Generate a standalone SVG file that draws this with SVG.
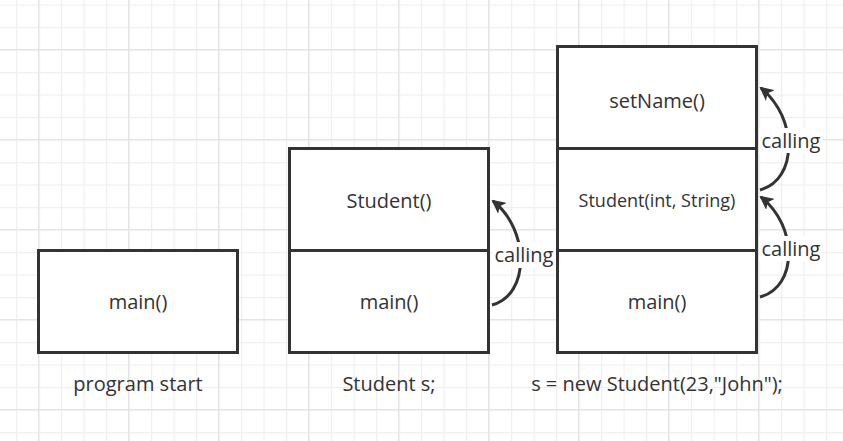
<svg xmlns="http://www.w3.org/2000/svg" width="843" height="441" viewBox="0 0 843 441">
<defs>
<pattern id="minor" width="22.5" height="22.5" patternUnits="userSpaceOnUse" x="-6.5" y="4.5">
<path d="M0,0.5 H22.5 M0.5,0 V22.5" stroke="#f0f0f0" stroke-width="1.5" fill="none"/>
</pattern>
<pattern id="major" width="90" height="90" patternUnits="userSpaceOnUse" x="38" y="49">
<path d="M0,0.5 H90 M0.5,0 V90" stroke="#e4e4e4" stroke-width="1.5" fill="none"/>
</pattern>
<marker id="arr" viewBox="0 0 14 14" refX="12" refY="7" markerWidth="14" markerHeight="14" markerUnits="userSpaceOnUse" orient="auto">
<path d="M0,0 L14,7 L0,14 L3.5,7 Z" fill="#333"/>
</marker>
</defs>
<style>
.box{fill:#fff;stroke:#333;stroke-width:3}
.sep{stroke:#333;stroke-width:3}
text{font-family:"Open Sans","Noto Sans",sans-serif;fill:#333;font-size:20px;text-anchor:middle;dominant-baseline:central}
.sm{font-size:18px}
.conn{fill:none;stroke:#333;stroke-width:3}
.lbl{fill:#fff}
</style>
<rect width="843" height="441" fill="#fff"/>
<rect width="843" height="441" fill="url(#minor)"/>
<rect width="843" height="441" fill="url(#major)"/>
<g id="stack1">
<rect class="box" x="38.5" y="250.5" width="199" height="102"/>
<text x="138" y="301">main()</text>
<text x="138" y="383">program start</text>
</g>
<g id="stack2">
<rect class="box" x="289.5" y="148.5" width="199" height="204"/>
<line class="sep" x1="289.5" y1="250.5" x2="488.5" y2="250.5"/>
<text x="389" y="200">Student()</text>
<text x="389" y="301">main()</text>
<text x="389" y="383">Student s;</text>
</g>
<g id="stack3">
<rect class="box" x="557.5" y="46.5" width="199" height="306"/>
<line class="sep" x1="557.5" y1="148.5" x2="756.5" y2="148.5"/>
<line class="sep" x1="557.5" y1="250.5" x2="756.5" y2="250.5"/>
<text x="657" y="100">setName()</text>
<text class="sm" x="657" y="200">Student(int, String)</text>
<text x="657" y="301">main()</text>
<text x="657" y="383">s = new Student(23,"John");</text>
</g>
<g id="connectors">
<path class="conn" marker-end="url(#arr)" d="M492,305 C530,295 530,230 493,201"/>
<rect class="lbl" x="493" y="242" width="63" height="26"/>
<text x="524" y="254">calling</text>
<path class="conn" marker-end="url(#arr)" d="M760,297 C798,287 798,226 761,197"/>
<rect class="lbl" x="759" y="236" width="64" height="25"/>
<text x="791" y="248">calling</text>
<path class="conn" marker-end="url(#arr)" d="M760,190 C798,180 798,118 761,88"/>
<rect class="lbl" x="759" y="128" width="64" height="25"/>
<text x="791" y="140">calling</text>
</g>
</svg>
